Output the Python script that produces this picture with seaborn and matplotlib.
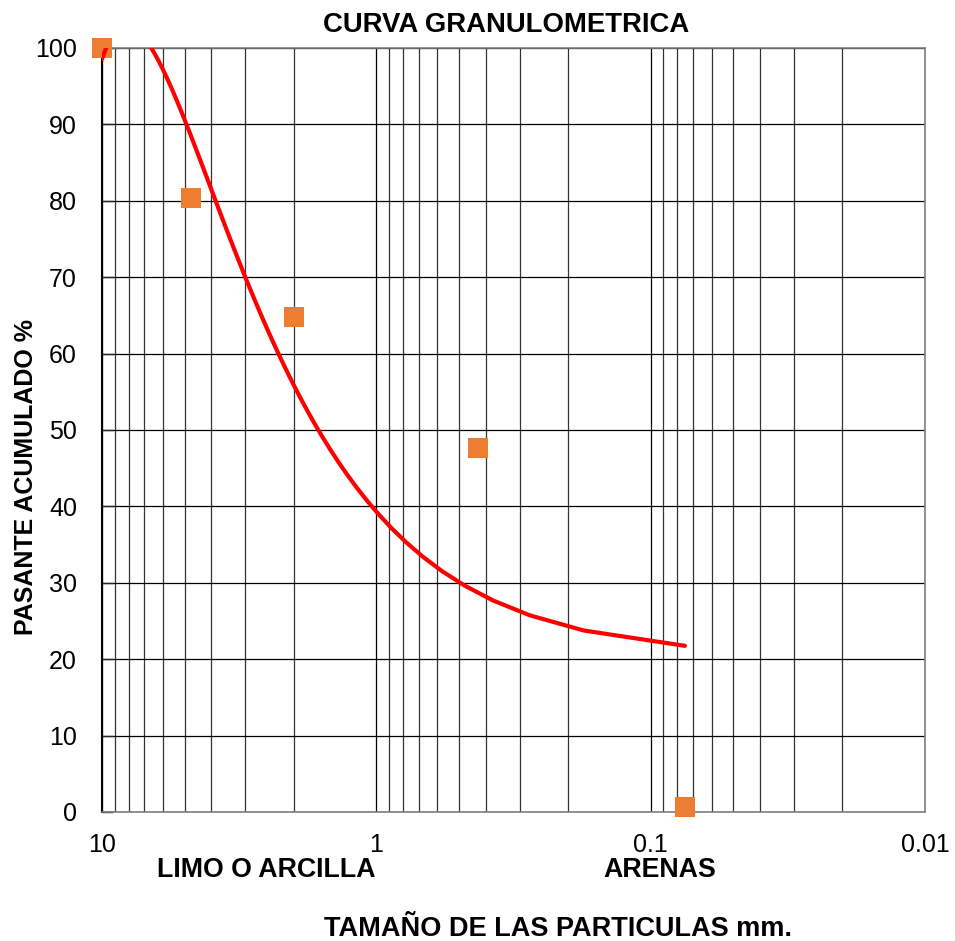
import matplotlib
matplotlib.use("Agg")
import matplotlib.pyplot as plt
import seaborn as sns
import pandas as pd

# granulometria: abertura del tamiz (mm) y porcentaje que pasa
abertura_mm = [10, 4.75, 2.0, 0.425, 0.075]
pasante_pct = [100, 80.4, 64.8, 47.6, 0.6]

x_ticks = [10, 1, 0.1, 0.01]
x_tick_labels = ["10", "1", "0.1", "0.01"]
y_ticks = [0, 10, 20, 30, 40, 50, 60, 70, 80, 90, 100]

datos = pd.DataFrame({"abertura": abertura_mm, "pasante": pasante_pct})

sns.set_style("white")
plt.rcParams["font.family"] = ["Liberation Sans", "DejaVu Sans"]
plt.rcParams["text.color"] = "black"
plt.rcParams["axes.labelcolor"] = "black"
plt.rcParams["xtick.labelcolor"] = "black"
plt.rcParams["ytick.labelcolor"] = "black"

fig = plt.figure(figsize=(9.55, 9.41), dpi=100)
ax = fig.add_axes([0.1068, 0.1371, 0.8618, 0.8119])
ax.set_xscale("log")

# puntos + linea de tendencia polinomica de grado 2 (como en Excel)
sns.regplot(data=datos, x="abertura", y="pasante", order=2, ci=None, ax=ax,
            marker="s",
            scatter_kws=dict(s=210, color="#ED7D31", alpha=1, linewidths=0,
                             clip_on=False, zorder=3),
            line_kws=dict(color="#FF0000", lw=3.0, zorder=4,
                          solid_capstyle="round", solid_joinstyle="round"))

ax.set_xlim(10, 0.01)
ax.set_ylim(0, 100)
ax.set_xticks(x_ticks)
ax.set_xticklabels(x_tick_labels)
ax.set_yticks(y_ticks)

ax.set_axisbelow(True)
ax.grid(which="major", axis="both", color="black", lw=0.9)
ax.grid(which="minor", axis="x", color="#333333", lw=0.9)

ax.tick_params(axis="x", which="major", direction="out", length=8, width=1,
               color="#666666", labelsize=18, pad=7, labelcolor="black")
ax.tick_params(axis="x", which="minor", length=0)
ax.tick_params(axis="y", direction="in", length=8, width=1,
               labelsize=18, pad=18, left=True, labelcolor="black")

for lado in ["top", "right", "bottom"]:
    ax.spines[lado].set_color("#7f7f7f")
    ax.spines[lado].set_linewidth(1.2)
ax.spines["left"].set_color("black")
ax.spines["left"].set_linewidth(1.5)

ax.set_title("CURVA GRANULOMETRICA", fontsize=19.8, fontweight="bold",
             x=0.4915, y=1.030, va="center", pad=0, color="black")
ax.set_xlabel("TAMAÑO DE LAS PARTICULAS mm.", fontsize=19.5,
              fontweight="bold", color="black")
ax.xaxis.set_label_coords(0.554, -0.1535)
ax.xaxis.label.set_va("center")
ax.set_ylabel("PASANTE ACUMULADO %", fontsize=18.0, fontweight="bold",
              color="black")
ax.yaxis.set_label_coords(-0.0925, 0.438)
ax.yaxis.label.set_va("center")

fig.text(0.2785, 0.0752, "LIMO O ARCILLA", fontsize=19.3, fontweight="bold",
         ha="center", va="center", color="black")
fig.text(0.691, 0.0752, "ARENAS", fontsize=19.3, fontweight="bold",
         ha="center", va="center", color="black")

fig.savefig("out.png", dpi=100)
